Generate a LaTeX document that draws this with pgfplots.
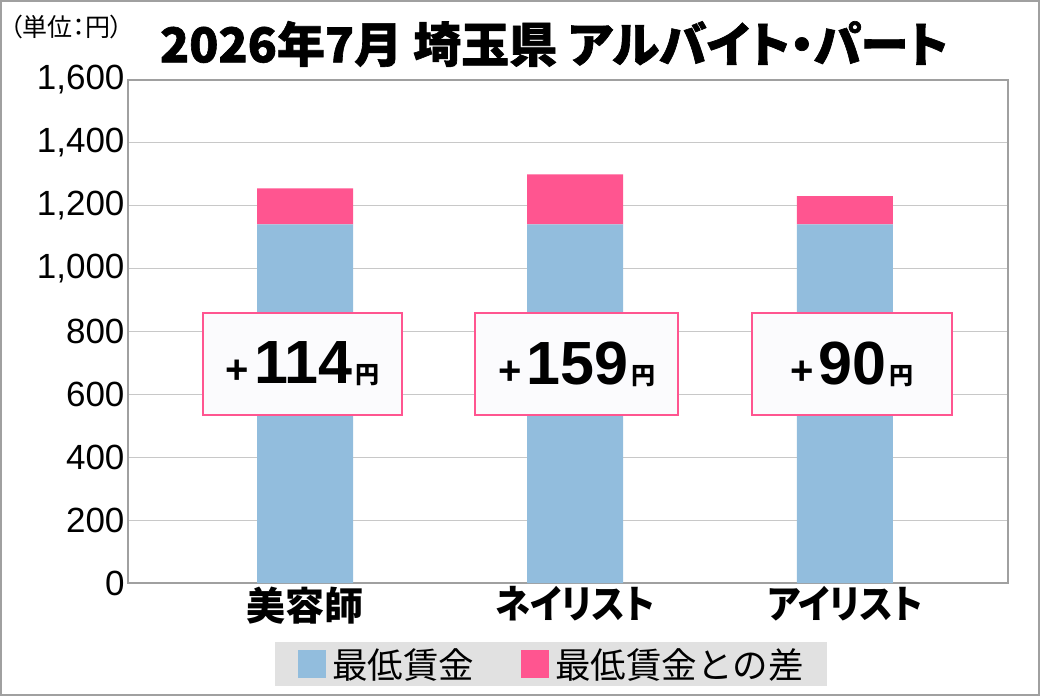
\documentclass[border=0pt]{standalone}
\usepackage{pgfplots}
\pgfplotsset{compat=1.18}
\usepackage{graphicx}
\usepackage{fontspec}
\setmainfont{Liberation Sans}
\newfontfamily\jp[RawFeature=+palt]{Noto Sans CJK JP}
\newfontfamily\jpn{Noto Sans CJK JP}
\newfontfamily\jph[RawFeature=+palt, BoldFeatures={FakeBold=1.3}]{Noto Sans CJK JP}
\definecolor{wageblue}{HTML}{92BDDD}
\definecolor{diffpink}{HTML}{FF5590}
\definecolor{framegray}{HTML}{A0A0A0}
\definecolor{gridgray}{HTML}{C8C8C8}
\definecolor{legendbg}{HTML}{E1E1E1}
\definecolor{boxfill}{HTML}{FBFBFD}

% difference label: "+114円"
\newcommand{\diff}[1]{%
  {\bfseries\fontsize{40pt}{40pt}\selectfont +}\hspace{5pt}%
  {\bfseries\fontsize{61pt}{61pt}\selectfont #1}\hspace{3pt}%
  {\jp\bfseries\fontsize{24pt}{24pt}\selectfont 円}}

\begin{document}
\begin{tikzpicture}
\useasboundingbox (0,0) rectangle (1040pt,696pt);
\draw[framegray, line width=2pt] (1pt,1pt) rectangle (1039pt,695pt);
\node[font=\jp\fontsize{25pt}{27pt}\selectfont, anchor=west, inner sep=0pt] at (10pt,669pt) {（単位：円）};
\node[font=\jph\bfseries\fontsize{48pt}{52pt}\selectfont] at (554pt,652pt) {2026年7月 埼玉県 アルバイト・パート};

\begin{axis}[
    at={(128pt,113pt)}, anchor=south west,
    scale only axis,
    width=880pt, height=503pt,
    xmin=-0.656, xmax=2.604,
    ymin=0, ymax=1600,
    ybar stacked,
    bar width=0.3556,
    xtick={0,1,2},
    xticklabels={美容師, \scalebox{0.9}[1]{ネイリスト}, \scalebox{0.9}[1]{アイリスト}},
    ytick={0,200,400,600,800,1000,1200,1400,1600},
    major tick length=0pt,
    /pgf/number format/1000 sep={,},
    /pgf/number format/assume math mode=true,
    yticklabel style={font=\fontsize{35pt}{37pt}\selectfont},
    xticklabel style={font=\jp\bfseries\fontsize{39pt}{42pt}\selectfont},
    ymajorgrids=true,
    grid style={gridgray, line width=1.2pt},
    axis line style={framegray, line width=1.3pt},
    legend columns=2,
    legend cell align=left,
    legend image code/.code={\fill[#1] (0pt,-14pt) rectangle (28pt,14pt); \path (34pt,0pt);},
    legend style={
        at={(0.4807,-0.161)}, anchor=center,
        fill=legendbg, draw=none,
        inner xsep=23pt, inner ysep=6pt,
        font=\jpn\fontsize{35.5pt}{38pt}\selectfont,
        nodes={inner sep=0pt},
        column sep=0pt,
    },
]
\addplot[fill=wageblue, draw=none] coordinates {(0,1141) (1,1141) (2,1141)};
\addplot[fill=diffpink, draw=none] coordinates {(0,114) (1,159) (2,90)};
\legend{\makebox[189pt][l]{最低賃金}, 最低賃金との差}

\coordinate (d1) at (axis cs:-0.009,697);
\coordinate (d2) at (axis cs:1.006,697);
\coordinate (d3) at (axis cs:2.026,697);
\end{axis}

\node[draw=diffpink, line width=2pt, fill=boxfill, minimum width=199pt, minimum height=102pt, inner sep=0pt]
    at (d1) {\diff{114}};
\node[draw=diffpink, line width=2pt, fill=boxfill, minimum width=203pt, minimum height=102pt, inner sep=0pt]
    at (d2) {\diff{159}};
\node[draw=diffpink, line width=2pt, fill=boxfill, minimum width=200pt, minimum height=102pt, inner sep=0pt]
    at (d3) {\diff{90}};
\end{tikzpicture}
\end{document}
